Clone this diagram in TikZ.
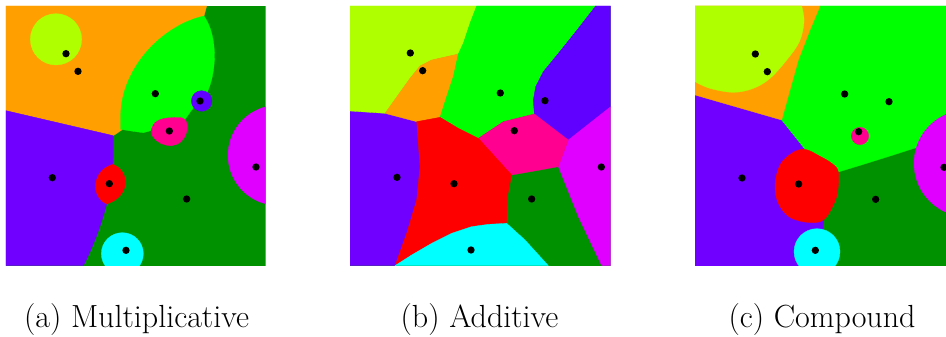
\documentclass[tikz,border=0pt]{standalone}
\definecolor{vdg}{RGB}{0,145,0}
\definecolor{vbg}{RGB}{0,255,0}
\definecolor{vor}{RGB}{255,160,0}
\definecolor{vli}{RGB}{176,255,0}
\definecolor{vpu}{RGB}{112,0,255}
\definecolor{vbl}{RGB}{96,0,255}
\definecolor{vre}{RGB}{255,0,0}
\definecolor{vpk}{RGB}{255,0,144}
\definecolor{vma}{RGB}{224,0,255}
\definecolor{vcy}{RGB}{0,255,255}
\tikzset{
  reg/.style={fill=#1,draw=#1,line width=0.3pt,line join=round},
  site/.style={fill=black},
  captext/.style={font=\fontsize{32}{38}\selectfont,anchor=base,inner sep=0pt}
}
\begin{document}
\begin{tikzpicture}[x=1pt,y=-1pt]
\useasboundingbox (0,0) rectangle (946,337);
% ---------------- (a) multiplicative
\begin{scope}[shift={(0,0)},scale=1/3]
\clip (18,18) rectangle (797,797);
\fill[vdg] (18,18) rectangle (797,797);
\path[reg=vor] (18,18) -- (620,18) -- (612,48) -- (365,390) -- (340,407) -- (18,332) -- cycle;
\path[reg=vpu] (18,332) -- (340,407) -- (340,470) -- (339,493) -- (330,550) -- (320,612)
   .. controls (305,670) and (280,740) .. (250,797) -- (18,797) -- cycle;
\path[reg=vbg] (612,48) .. controls (490,75) and (365,200) .. (362,345) -- (362,388)
   -- (400,394) -- (430,398) -- (460,390) -- (555,358) -- (575,330) -- (620,280)
   .. controls (650,220) and (655,110) .. (612,48) -- cycle;
\path[reg=vli] (168,118) circle[radius=77];
\path[reg=vbl] (605,303) circle[radius=31];
\path[reg=vpk] plot[smooth cycle,tension=0.6] coordinates {(453,395) (465,368) (490,356) (520,353) (550,355) (562,375) (558,402) (543,425) (515,437) (482,430) (462,414)};
\path[reg=vre] (339,493) .. controls (392,515) and (390,590) .. (320,612)
   .. controls (270,590) and (276,510) .. (339,493) -- cycle;
\path[reg=vma] (834,466) circle[radius=150];
\path[reg=vcy] (367,761) circle[radius=63];
\foreach \p in {(198,161),(234,214),(466,281),(600,303),(508,393),(157,533),(328,551),(560,597),(768,501),(378,751)}
  \fill[site] \p circle[radius=11];
\end{scope}
% ---------------- (b) additive
\begin{scope}[shift={(345,0)},scale=1/3]
\clip (15,18) rectangle (797,797);
\fill[vdg] (15,18) rectangle (797,797);
\path[reg=vpu] (15,333) -- (120,340) -- (215,365) -- (225,500) -- (215,600) -- (185,700) -- (150,797) -- (15,797) -- cycle;
\path[reg=vli] (15,18) -- (395,18) -- (375,70) -- (355,130) -- (340,162) -- (260,180) -- (225,198) -- (195,235) -- (120,340) -- (15,333) -- cycle;
\path[reg=vor] (340,162) -- (325,230) -- (305,290) -- (285,352) -- (215,365) -- (120,340) -- (195,235) -- (225,198) -- (260,180) -- cycle;
\path[reg=vbg] (395,18) -- (752,18) -- (700,85) -- (640,160) -- (595,215) -- (572,260) -- (565,300) -- (568,342) -- (475,365) -- (400,415) -- (340,385) -- (285,352) -- (305,290) -- (325,230) -- (340,162) -- (355,130) -- (375,70) -- cycle;
\path[reg=vbl] (752,18) -- (797,18) -- (797,320) -- (670,420) -- (568,342) -- (565,300) -- (572,260) -- (595,215) -- (640,160) -- (700,85) -- cycle;
\path[reg=vma] (797,320) -- (797,797) -- (770,797) -- (700,650) -- (640,500) -- (670,420) -- cycle;
\path[reg=vpk] (400,415) -- (475,365) -- (568,342) -- (670,420) -- (640,500) -- (585,510) -- (500,525) -- (450,470) -- cycle;
\path[reg=vre] (215,365) -- (285,352) -- (340,385) -- (400,415) -- (450,470) -- (500,525) -- (487,590) -- (485,670) -- (430,673) -- (380,680) -- (320,700) -- (260,730) -- (200,765) -- (150,797) -- (185,700) -- (215,600) -- (225,500) -- cycle;
\path[reg=vcy] (150,797) -- (200,765) -- (260,730) -- (320,700) -- (380,680) -- (430,673) -- (485,670) -- (540,720) -- (610,797) -- cycle;
\foreach \p in {(196,159),(233,212),(466,279),(600,302),(508,392),(156,532),(327,551),(560,597),(769,501),(378,750)}
  \fill[site] \p circle[radius=11];
\end{scope}
% ---------------- (c) compound
\begin{scope}[shift={(690,0)},scale=1/3]
\clip (15,18) rectangle (768,797);
\fill[vdg] (15,18) rectangle (800,797);
\path[reg=vpu] (15,285) -- (150,324) -- (275,360) -- (345,448) -- (400,660) -- (402,800) -- (15,800) -- cycle;
\path[reg=vbg] (390,18) -- (800,18) -- (800,420) -- (672,445) -- (600,468) -- (530,490) -- (445,516) -- (425,490) -- (390,469) -- (345,448) -- (275,360) -- (300,270) -- (325,180) -- (360,90) -- cycle;
\path[reg=vor] (15,18) -- (390,18) -- (360,90) -- (325,180) -- (300,270) -- (275,360) -- (150,324) -- (15,285) -- cycle;
\path[reg=vli] (15,18) -- (335,18) -- plot[smooth,tension=0.6] coordinates {(335,18) (342,65) (328,125) (290,180) (240,235) (190,265) (130,277) (60,265) (15,245)} -- cycle;
\path[reg=vre] plot[smooth cycle,tension=0.6] coordinates {(345,448) (390,469) (425,490) (445,516) (442,580) (425,625) (400,660) (360,668) (300,652) (265,610) (255,555) (270,495) (305,460)};
\path[reg=vpk] (510,408) circle[radius=26];
\path[reg=vma] (832,490) circle[radius=160];
\path[reg=vcy] (381,755) circle[radius=69];
\foreach \p in {(196,162),(232,215),(464,282),(597,305),(506,395),(156,534),(326,552),(557,598),(762,502),(376,751)}
  \fill[site] \p circle[radius=11];
\end{scope}
% ---------------- captions
\node[captext] (capa) at (136.5,327) {(a) Multiplicative};
\node[captext] (capb) at (479.5,327) {(b) Additive};
\node[captext] (capc) at (822,327) {(c) Compound};
\end{tikzpicture}
\end{document}
